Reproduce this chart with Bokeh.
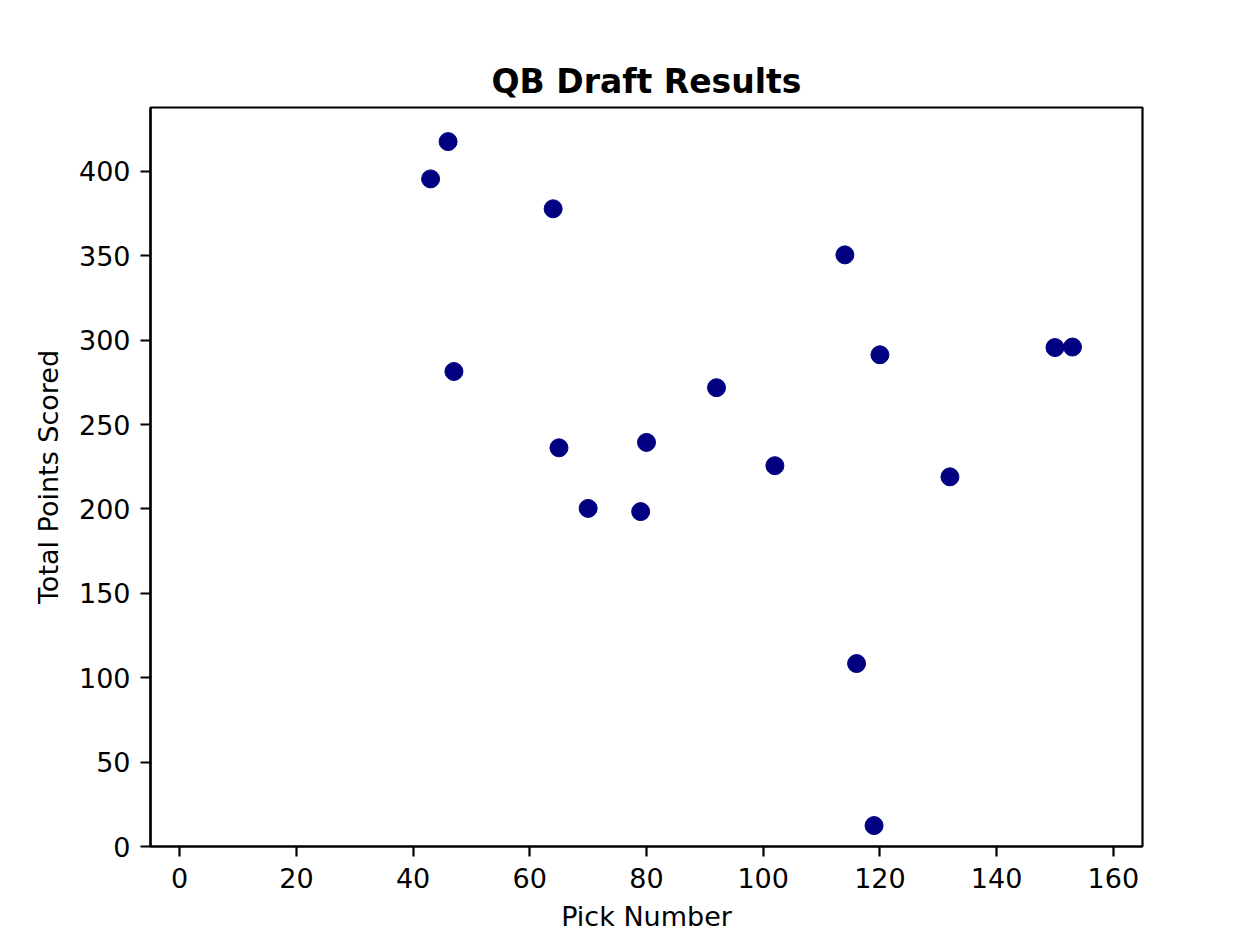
from bokeh.plotting import figure
from bokeh.models import FixedTicker, Range1d
from bokeh.embed import file_html
from bokeh.resources import INLINE

pick_number = [46, 43, 64, 47, 65, 70, 79, 80, 92, 102, 114, 120, 116, 119, 132, 150, 153]
total_points = [417.6, 395.5, 377.8, 281.4, 236.2, 200.3, 198.4, 239.4, 271.8, 225.6,
                350.5, 291.3, 108.4, 12.4, 219.0, 295.6, 295.9]
x_ticks = [0, 20, 40, 60, 80, 100, 120, 140, 160]
y_ticks = [0, 50, 100, 150, 200, 250, 300, 350, 400]

FONT = "DejaVu Sans"

p = figure(width=1252, height=936, output_backend="svg", toolbar_location=None,
           x_range=Range1d(-5, 165), y_range=Range1d(0, 437.8),
           title="QB Draft Results",
           min_border_left=150, min_border_right=110, min_border_top=107, min_border_bottom=90)

p.scatter(pick_number, total_points, size=18, fill_color="#000080", line_color="#000080", line_width=1)

p.xgrid.visible = False
p.ygrid.visible = False
p.background_fill_color = "white"
p.border_fill_color = "white"
p.outline_line_color = "black"
p.outline_line_width = 2.2

p.title.text_font = FONT
p.title.text_font_size = "33px"
p.title.text_font_style = "bold"
p.title.text_color = "black"
p.title.align = "center"
p.title.standoff = 14

p.xaxis.ticker = FixedTicker(ticks=x_ticks)
p.yaxis.ticker = FixedTicker(ticks=y_ticks)

for ax in (p.xaxis, p.yaxis):
    ax.axis_line_width = 2.2
    ax.axis_line_color = "black"
    ax.major_tick_line_width = 2.2
    ax.major_tick_out = 10
    ax.major_tick_in = 0
    ax.minor_tick_out = 0
    ax.minor_tick_in = 0
    ax.major_label_text_font = FONT
    ax.major_label_text_font_size = "27px"
    ax.major_label_text_color = "black"
    ax.axis_label_text_font = FONT
    ax.axis_label_text_font_size = "27px"
    ax.axis_label_text_font_style = "normal"
    ax.axis_label_text_color = "black"

p.xaxis.major_label_standoff = 11
p.yaxis.major_label_standoff = 10
p.xaxis.axis_label = "Pick Number"
p.yaxis.axis_label = "Total Points Scored"
p.xaxis.axis_label_standoff = 10
p.yaxis.axis_label_standoff = 12

open("out.html", "w").write(file_html(p, INLINE))
